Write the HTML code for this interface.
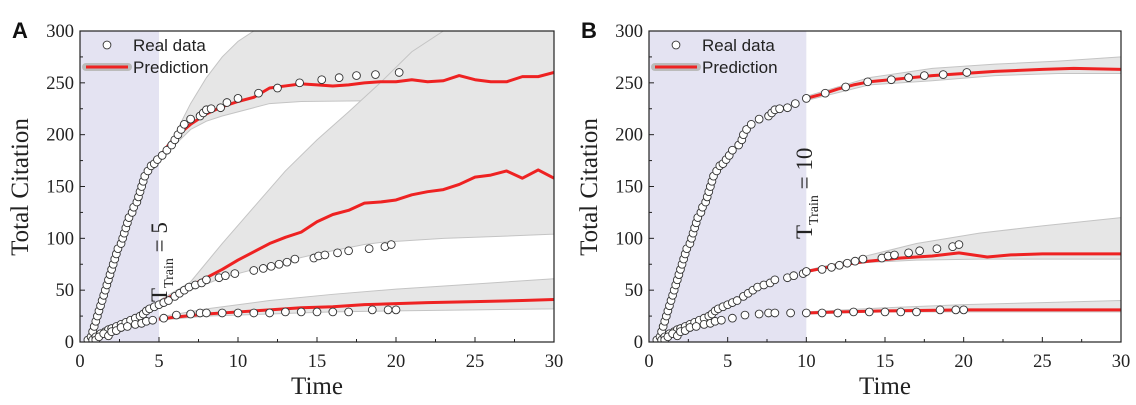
<!DOCTYPE html>
<html><head><meta charset="utf-8"><style>
html,body{margin:0;padding:0;background:#fff;}
svg{display:block;font-family:"Liberation Serif",serif;}
</style></head><body>
<svg id="fig" width="1136" height="405" viewBox="0 0 1136 405" xmlns="http://www.w3.org/2000/svg"></svg>
<script>
// ---------- Panel A data ----------
const aTopRealT=[0.5,0.7,0.8,0.9,1.0,1.1,1.2,1.3,1.4,1.5,1.6,1.7,1.8,1.9,2.0,2.1,2.2,2.3,2.4,2.6,2.7,2.8,2.9,3.0,3.1,3.3,3.4,3.6,3.7,3.8,3.9,4.0,4.1,4.3,4.5,4.7,4.9,5.2,5.5,5.8,6.0,6.2,6.4,6.6,7.0,7.6,7.8,8.0,8.3,8.9,9.3,10,11.3,12.5,13.9,15.3,16.4,17.5,18.7,20.2];
const aTopRealY=[2,5,10,15,20,25,30,35,40,45,50,55,60,65,70,75,80,85,90,95,100,105,110,115,120,125,130,135,140,145,150,155,160,165,170,172,176,180,185,190,195,200,205,210,215,218,221,224,225,226,231,235,240,245,250,253,255,257,258,260];
const aTopPredT=[5,5.5,6,7,8,9,10,11,12,13,14,15,16,17,18,19,20,21,22,23,24,25,26,27,28,29,30];
const aTopPredY=[177,188,197,210,220,227,232,236,245,247,249,248,247,248,250,251,251,253,251,252,257,253,251,251,256,256,260];
const aTopBandT=[5,6,7,8,9,10,11,12,14,20,30];
const aTopBandHi=[180,200,230,255,275,290,300,300,300,300,300];
const aTopBandLo=[175,190,205,213,218,222,226,230,232,233,236];

const aMidRealT=[0.8,1,1.3,1.6,1.8,2,2.3,2.6,2.9,3.2,3.5,3.8,4,4.2,4.4,4.7,5,5.3,5.6,6,6.3,6.6,6.9,7.3,7.7,8,8.8,9.2,9.8,11,11.6,12.1,12.6,13.1,13.6,14.8,15.1,15.5,16.3,17.0,18.3,19.3,19.7];
const aMidRealY=[2,5,8,10,12,13,15,17,19,21,23,25,27,30,32,34,36,38,40,44,47,50,53,55,57,60,62,64,66,69,71,73,75,77,80,81,83,84,86,88,90,92,94];
const aMidPredT=[5,6,7,8,9,10,11,12,13,14,15,16,17,18,19,20,21,22,23,24,25,26,27,28,29,30];
const aMidPredY=[38,46,54,62,70,79,87,95,101,106,116,123,127,134,135,137,142,145,147,152,159,161,165,158,166,158];
const aMidBandT=[5,7,9,11,13,15,17,18,19,21,23,25,30];
const aMidBandHi=[40,58,95,130,165,195,222,236,250,280,300,300,300];
const aMidBandLo=[36,50,62,70,78,85,91,94,96,98,100,101,104];

const aBotRealT=[1,1.2,1.5,1.8,2,2.3,2.6,3,3.5,3.9,4.2,4.6,5.3,6.1,7,7.6,8,9,10,11,12,13,14,15,16,17,18.5,19.5,20];
const aBotRealY=[2,5,8,6,10,11,14,15,17,18,20,21,23,26,27,28,28,28,28,28,28,29,29,29,29,29,31,31,31];
const aBotPredT=[5,6,8,10,12,14,16,18,20,22,25,28,30];
const aBotPredY=[22,24,27,29,31,33,34,36,37,38,39,40,41];
const aBotBandT=[5,8,12,16,20,25,30];
const aBotBandHi=[24,32,40,46,51,56,61];
const aBotBandLo=[21,25,27,29,30,31,32];

// ---------- Panel B data ----------
const bTopRealT=[0.5,0.7,0.8,0.9,1.0,1.1,1.2,1.3,1.4,1.5,1.6,1.7,1.8,1.9,2.0,2.1,2.2,2.3,2.4,2.6,2.7,2.8,2.9,3.0,3.1,3.3,3.4,3.6,3.7,3.8,3.9,4.0,4.1,4.3,4.5,4.7,4.9,5.1,5.3,5.7,5.9,6.0,6.2,6.5,7.0,7.6,7.8,8.0,8.3,8.8,9.3,10,11.2,12.5,13.9,15.4,16.5,17.5,18.7,20.2];
const bTopRealY=[2,5,10,15,20,25,30,35,40,45,50,55,60,65,70,75,80,85,90,95,100,105,110,115,120,125,130,135,140,145,150,155,160,165,170,172,176,180,185,190,195,200,205,210,215,218,221,224,225,226,230,235,240,246,251,253,255,257,258,260];
const bTopPredT=[10,11,12,13,14,16,18,20,22,25,27,30];
const bTopPredY=[235,239,244,248,251,254,257,259,261,263,264,263];
const bTopBandT=[10,14,18,22,26,30];
const bTopBandHi=[237,255,264,268,271,275];
const bTopBandLo=[233,248,252,257,259,259];

const bMidRealT=[0.8,1,1.3,1.6,1.8,2,2.3,2.6,2.9,3.2,3.5,3.8,4,4.2,4.4,4.7,5,5.3,5.6,6,6.3,6.6,6.9,7.3,7.7,8,8.8,9.2,9.8,10,11,11.6,12.1,12.6,13.1,13.6,14.8,15.2,15.6,16.5,17.2,18.3,19.3,19.7];
const bMidRealY=[2,5,8,10,12,13,15,17,19,21,23,25,27,30,32,34,36,38,40,44,47,50,53,55,57,60,62,64,66,68,70,72,74,76,78,80,81,83,84,86,88,90,92,94];
const bMidPredT=[10,12,14,16,18,19.7,21.5,23,25,30];
const bMidPredY=[68,74,78,81,83,86,82,84,85,85];
const bMidBandT=[10,13,17,21,25,30];
const bMidBandHi=[69,80,95,105,112,120];
const bMidBandLo=[67,76,79,80,80,80];

const bBotRealT=[1,1.2,1.5,1.8,2,2.3,2.6,3,3.5,3.9,4.2,4.6,5.3,6.1,7,7.6,8,9,10,11,12,13,14,15,16,17,18.5,19.5,20];
const bBotRealY=[2,5,8,6,10,11,14,15,17,18,20,21,23,26,27,28,28,28,28,28,28,29,29,29,29,29,31,31,31];
const bBotPredT=[10,12,15,20,30];
const bBotPredY=[28,29,30,31,31];
const bBotBandT=[10,15,20,25,30];
const bBotBandHi=[29,33,36,38,40];
const bBotBandLo=[27,29,29,29,29];

const xTicks=[0,5,10,15,20,25,30];
const yTicks=[0,50,100,150,200,250,300];

const NS="http://www.w3.org/2000/svg";
const svg=document.getElementById('fig');
function mk(tag,attrs,parent){const e=document.createElementNS(NS,tag);for(const k in attrs)e.setAttribute(k,attrs[k]);(parent||svg).appendChild(e);return e;}

function panel(cfg){
  const g=mk('g',{});
  
  
  const L=cfg.left,R=cfg.right,T=31,B=342;
  const sx=t=>L+(t/30)*(R-L);
  const sy=v=>B-(v/300)*(B-T);
  const clipId='clip'+cfg.letter;
  const cp=mk('clipPath',{id:clipId},g);mk('rect',{x:L,y:T,width:R-L,height:B-T},cp);
  const plot=mk('g',{'clip-path':'url(#'+clipId+')'},g);
  const shade=mk('rect',{x:L,y:T,width:sx(cfg.train)-L,height:B-T,fill:'#e4e3f2'},plot);
  
  
  cfg.series.forEach((s,i)=>{
    let d='';
    s.bt.forEach((t,j)=>{d+=(j?'L':'M')+sx(t)+','+sy(s.hi[j]);});
    for(let j=s.bt.length-1;j>=0;j--)d+='L'+sx(s.bt[j])+','+sy(s.lo[j]);
    const band=mk('path',{d:d+'Z',fill:'#e6e6e6',stroke:'#c4c4c4','stroke-width':1},plot);
    
    
  });
  cfg.series.forEach(s=>{
    const pts=s.pt.map((t,j)=>sx(t)+','+sy(s.py[j])).join(' ');
    const line=mk('polyline',{points:pts,fill:'none',stroke:'#ee2222','stroke-width':3,'stroke-linejoin':'round'},plot);
    
    
  });
  cfg.series.forEach(s=>{
    s.rt.forEach((t,j)=>{
      const c=mk('circle',{cx:sx(t),cy:sy(s.ry[j]),r:3.9,fill:'#fff',stroke:'#333','stroke-width':0.9},plot);
      
      
    });
  });
  const frame=mk('rect',{x:L,y:T,width:R-L,height:B-T,fill:'none',stroke:'#222','stroke-width':1.2},g);
  
  
  xTicks.forEach(t=>{
    mk('line',{x1:sx(t),x2:sx(t),y1:B,y2:B-5,stroke:'#222'},g);
    if(t<30)mk('line',{x1:sx(t+2.5),x2:sx(t+2.5),y1:B,y2:B-3,stroke:'#222'},g);
    const tx=mk('text',{x:sx(t),y:B+25,'text-anchor':'middle','font-size':18.5,fill:'#222'},g);
    tx.textContent=t;
    
    
  });
  yTicks.forEach(v=>{
    mk('line',{x1:L,x2:L+5,y1:sy(v),y2:sy(v),stroke:'#222'},g);
    if(v<300)mk('line',{x1:L,x2:L+3,y1:sy(v+25),y2:sy(v+25),stroke:'#222'},g);
    const ty=mk('text',{x:L-6,y:sy(v)+6,'text-anchor':'end','font-size':18.5,fill:'#222'},g);
    ty.textContent=v;
    
    
  });
  const xt=mk('text',{x:(L+R)/2,y:394,'text-anchor':'middle','font-size':25,fill:'#222'},g);
  xt.textContent='Time';
  
  
  const yt=mk('text',{x:0,y:0,'text-anchor':'middle','font-size':25,fill:'#222',transform:'translate('+(L-52)+',187) rotate(-90)'},g);
  yt.textContent='Total Citation';
  
  
  const lt=mk('text',{x:L-68,y:38,'font-size':22,'font-weight':'bold','font-family':'Liberation Sans, sans-serif',fill:'#111'},g);
  lt.textContent=cfg.letter;
  
  
  const tr=mk('text',{x:0,y:0,'font-size':23,fill:'#222',transform:'translate('+cfg.tx+','+cfg.ty+') rotate(-90)'},g);
  tr.innerHTML='T<tspan font-size="14" dy="6">Train</tspan><tspan dy="-6"> = '+cfg.train+'</tspan>';
  
  
  const lg=mk('g',{},g);
  
  
  mk('circle',{cx:L+27,cy:45,r:3.9,fill:'#fff',stroke:'#333','stroke-width':0.9},lg);
  const l1=mk('text',{x:L+53,y:51,'font-size':17,'font-family':'Liberation Sans, sans-serif',fill:'#222'},lg);l1.textContent='Real data';
  mk('line',{x1:L+6,x2:L+48,y1:67,y2:67,stroke:'#bbb','stroke-width':8,'stroke-linecap':'round'},lg);
  mk('line',{x1:L+6,x2:L+48,y1:67,y2:67,stroke:'#ee2222','stroke-width':3},lg);
  const l2=mk('text',{x:L+53,y:73,'font-size':17,'font-family':'Liberation Sans, sans-serif',fill:'#222'},lg);l2.textContent='Prediction';
}

panel({letter:'A',left:80,right:554,train:5,tx:167,ty:302,series:[
 {name:'top',rt:aTopRealT,ry:aTopRealY,pt:aTopPredT,py:aTopPredY,bt:aTopBandT,hi:aTopBandHi,lo:aTopBandLo},
 {name:'middle',rt:aMidRealT,ry:aMidRealY,pt:aMidPredT,py:aMidPredY,bt:aMidBandT,hi:aMidBandHi,lo:aMidBandLo},
 {name:'bottom',rt:aBotRealT,ry:aBotRealY,pt:aBotPredT,py:aBotPredY,bt:aBotBandT,hi:aBotBandHi,lo:aBotBandLo}]});
panel({letter:'B',left:649,right:1121,train:10,tx:812,ty:239,series:[
 {name:'top',rt:bTopRealT,ry:bTopRealY,pt:bTopPredT,py:bTopPredY,bt:bTopBandT,hi:bTopBandHi,lo:bTopBandLo},
 {name:'middle',rt:bMidRealT,ry:bMidRealY,pt:bMidPredT,py:bMidPredY,bt:bMidBandT,hi:bMidBandHi,lo:bMidBandLo},
 {name:'bottom',rt:bBotRealT,ry:bBotRealY,pt:bBotPredT,py:bBotPredY,bt:bBotBandT,hi:bBotBandHi,lo:bBotBandLo}]});
</script>
</body></html>
